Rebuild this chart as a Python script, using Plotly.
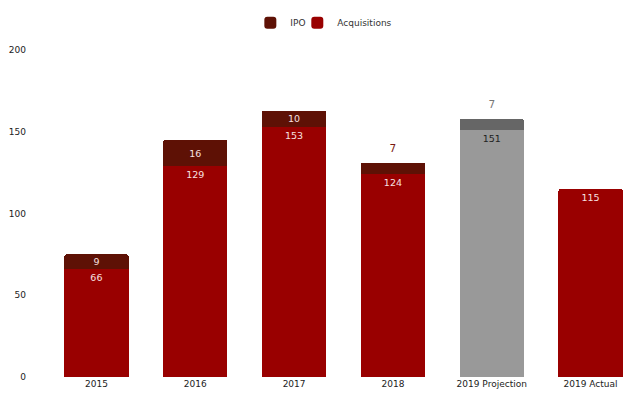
import plotly.graph_objects as go

categories = ["2015", "2016", "2017", "2018", "2019 Projection", "2019 Actual"]
acquisitions = [66, 129, 153, 124, 151, 115]
ipo = [9, 16, 10, 7, 7, None]

RED = "#990000"
DARK = "#5e1105"
GRAY = "#999999"
DGRAY = "#666666"
LIGHT = "#f7e0e0"

acq_colors = [RED, RED, RED, RED, GRAY, RED]
acq_text_colors = [LIGHT, LIGHT, LIGHT, LIGHT, "#222222", LIGHT]
ipo_colors = [DARK, DARK, DARK, DARK, DGRAY, DARK]

# small IPO segments get their label above the bar
small = [v is not None and v < 9 for v in ipo]
ipo_inside_text = [("" if (v is None or s) else str(v)) for v, s in zip(ipo, small)]
above_x = [c for c, s in zip(categories, small) if s]
above_y = [a + v for a, v, s in zip(acquisitions, ipo, small) if s]
above_text = [str(v) for v, s in zip(ipo, small) if s]
above_colors = ["#777777" if c == DGRAY else "#7a1a10"
                for c, s in zip(ipo_colors, small) if s]

fig = go.Figure()
fig.add_trace(go.Bar(
    x=categories, y=acquisitions, name="Acquisitions", legend="legend2",
    marker=dict(color=acq_colors, line=dict(width=0)),
    text=[str(v) for v in acquisitions], textposition="inside",
    insidetextanchor="end", textangle=0,
    textfont=dict(color=acq_text_colors, size=9.5),
))
fig.add_trace(go.Bar(
    x=categories, y=ipo, name="IPO", legend="legend",
    marker=dict(color=ipo_colors, line=dict(width=0)),
    text=ipo_inside_text, textposition="inside",
    insidetextanchor="middle", textangle=0, constraintext="none",
    textfont=dict(color=LIGHT, size=9.5),
))
fig.add_trace(go.Scatter(
    x=above_x, y=above_y, mode="markers+text", text=above_text,
    textposition="top center", showlegend=False, hoverinfo="skip",
    marker=dict(size=12, opacity=0),
    textfont=dict(color=above_colors, size=10.5),
    cliponaxis=False,
))

legend_common = dict(orientation="h", xanchor="left", y=1.083, yanchor="middle",
                     font=dict(size=9, color="#333333"), bgcolor="rgba(0,0,0,0)")
fig.update_layout(
    barmode="stack",
    width=632, height=386,
    margin=dict(l=38.5, r=0, t=42, b=17, autoexpand=False),
    plot_bgcolor="white", paper_bgcolor="white",
    font=dict(family="DejaVu Sans", size=9, color="#333333"),
    legend=dict(x=0.3429, **legend_common),
    legend2=dict(x=0.4221, **legend_common),
    bargap=0.35,
    barcornerradius=2,
)
fig.update_xaxes(type="category", showgrid=False, showline=False, ticks="",
                 tickfont=dict(size=9, color="#222222"), automargin=False)
fig.update_yaxes(range=[0, 200], dtick=50, showgrid=False, zeroline=False, showline=False,
                 tickfont=dict(size=9, color="#222222"), ticklabelstandoff=20,
                 automargin=False)

fig.write_html("out.html")
